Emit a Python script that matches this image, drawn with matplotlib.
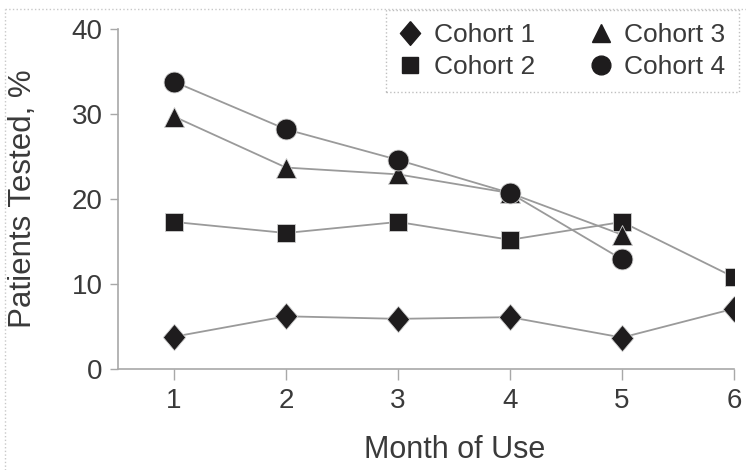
import matplotlib.pyplot as plt
from matplotlib.lines import Line2D
import numpy as np

plt.rcParams['font.family'] = ['Liberation Sans', 'DejaVu Sans']

# data
months = [1, 2, 3, 4, 5, 6]
cohort_names = ['Cohort 1', 'Cohort 2', 'Cohort 3', 'Cohort 4']
cohort1 = [3.8, 6.2, 5.9, 6.1, 3.7, 7.1]
cohort2 = [17.3, 16.0, 17.3, 15.2, 17.3, 10.8]
cohort3 = [29.7, 23.7, 22.9, 20.7, 15.8]
cohort4 = [33.8, 28.2, 24.6, 20.7, 12.9]
y_ticks = [0, 10, 20, 30, 40]

text_color = '#3a3a3a'
line_color = '#9a9a9a'
mark_color = '#1e1c1d'
axis_color = '#a8a8a8'

fig = plt.figure(figsize=(7.46, 4.70), dpi=100)
ax = fig.add_axes([118 / 746, 1 - 369 / 470, (734 - 118) / 746, (369 - 29) / 470])

# slightly tall diamond, like the reference
diamond = [(0, 1), (0.85, 0), (0, -1), (-0.85, 0), (0, 1)]
series = [cohort1, cohort2, cohort3, cohort4]
markers = [diamond, 's', '^', 'o']
sizes = [19, 13, 15, 15]

# lines first, markers on top
for vals in series:
    ax.plot(months[:len(vals)], vals, color=line_color, lw=1.3, zorder=2)
for vals, m, s in zip(series, markers, sizes):
    ax.plot(months[:len(vals)], vals, ls='none', marker=m, ms=s,
            mfc=mark_color, mec='#d0d0d0', mew=0.6, zorder=3)

ax.set_xlim(0.5, 6.0)
ax.set_ylim(0, 40)
ax.set_xticks(months)
ax.set_yticks(y_ticks)

for side in ['top', 'right']:
    ax.spines[side].set_visible(False)
for side in ['left', 'bottom']:
    ax.spines[side].set_color(axis_color)
    ax.spines[side].set_linewidth(1.2)

ax.tick_params(axis='x', length=8, width=1, color=axis_color, labelsize=20,
               labelcolor=text_color, pad=6)
ax.tick_params(axis='y', length=6, width=1, color=axis_color, labelsize=20,
               labelcolor=text_color, pad=5)

# axis titles placed where the reference has them
fig.text(455 / 746, 1 - 450 / 470, 'Month of Use', fontsize=22, color=text_color,
         ha='center', va='center')
fig.text(23 / 746, 1 - 199 / 470, 'Patients Tested, %', fontsize=22.5, color=text_color,
         ha='center', va='center', rotation=90)

# legend, markers only
handles = [Line2D([], [], ls='none', marker=m, ms=s * 0.9, mfc=mark_color,
                  mec=mark_color) for m, s in zip(markers, sizes)]
leg = ax.legend(handles, cohort_names, ncol=2, loc='upper left',
                bbox_to_anchor=(386 / 746, 1 - 10 / 470),
                bbox_transform=fig.transFigure, fontsize=19,
                frameon=True, fancybox=False, borderaxespad=0,
                handlelength=0.8, handletextpad=0.5, columnspacing=2.1,
                labelspacing=0.3, borderpad=0.5)
leg.get_frame().set_edgecolor('#b0b0b0')
leg.get_frame().set_linestyle(':')
leg.get_frame().set_linewidth(1.0)
for t in leg.get_texts():
    t.set_color(text_color)

# dotted frame around the figure (left and top edge visible)
fig.add_artist(Line2D([5 / 746, 5 / 746], [0, 1 - 9 / 470], transform=fig.transFigure,
                      color='#c8c8c8', lw=1, ls=':'))
fig.add_artist(Line2D([5 / 746, 1], [1 - 9 / 470, 1 - 9 / 470], transform=fig.transFigure,
                      color='#c8c8c8', lw=1, ls=':'))

fig.savefig('out.png', dpi=100)
